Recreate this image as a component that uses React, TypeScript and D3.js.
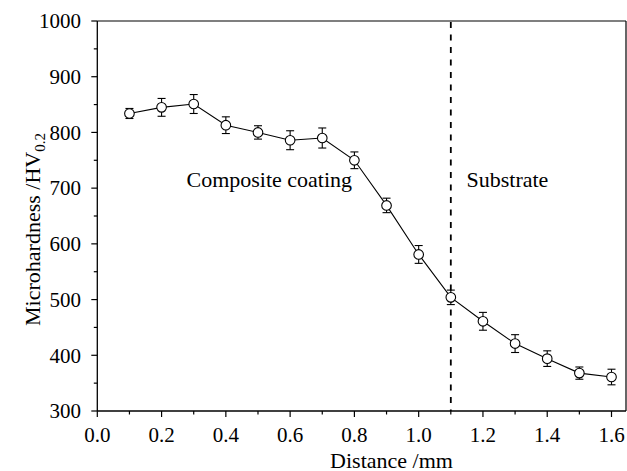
import React from "react";
import * as d3 from "d3";

const distances = [0.1, 0.2, 0.3, 0.4, 0.5, 0.6, 0.7, 0.8, 0.9, 1.0, 1.1, 1.2, 1.3, 1.4, 1.5, 1.6];
const hardness = [834, 845, 851, 813, 800, 786, 790, 750, 669, 581, 504, 461, 421, 394, 368, 361];
const errors = [9, 16, 17, 15, 12, 17, 18, 15, 13, 16, 13, 16, 16, 14, 11, 14];
const xTicks = [0.0, 0.2, 0.4, 0.6, 0.8, 1.0, 1.2, 1.4, 1.6];
const xMinor = [0.1, 0.3, 0.5, 0.7, 0.9, 1.1, 1.3, 1.5];
const yTicks = [300, 400, 500, 600, 700, 800, 900, 1000];
const yMinor = [350, 450, 550, 650, 750, 850, 950];
const boundary = 1.1;

const W = 627, H = 471;
const left = 97.3, right = 626, top = 21, bottom = 411;
const serif: React.CSSProperties = { fontFamily: "'Liberation Serif', 'DejaVu Serif', serif" };

export default function App() {
  const x = d3.scaleLinear().domain([0, 1.6]).range([left, 611.5]);
  const y = d3.scaleLinear().domain([300, 1000]).range([bottom, top]);
  const line = d3.line<number>().x((_, i) => x(distances[i])).y((d) => y(d));
  return (
    <svg width={W} height={H} style={{ position: "absolute", left: 0, top: 0, background: "#fff" }}>
      <rect x={0} y={0} width={W} height={H} fill="#fff" />
      {/* frame */}
      <line x1={left} x2={right} y1={top} y2={top} stroke="#000" strokeWidth={1.2} />
      <line x1={right} x2={right} y1={top} y2={bottom} stroke="#000" strokeWidth={1.2} />
      <line x1={left} x2={left} y1={top} y2={bottom} stroke="#000" strokeWidth={1.3} />
      <line x1={left} x2={right} y1={bottom} y2={bottom} stroke="#000" strokeWidth={1.3} />
      {/* x ticks */}
      {xTicks.map((t) => (
        <g key={"xt" + t}>
          <line x1={x(t)} x2={x(t)} y1={bottom} y2={bottom + 6} stroke="#000" strokeWidth={1.2} />
          <text x={x(t)} y={442} textAnchor="middle" fontSize={21} style={serif}>{t.toFixed(1)}</text>
        </g>
      ))}
      {xMinor.map((t) => (
        <line key={"xm" + t} x1={x(t)} x2={x(t)} y1={bottom} y2={bottom + 3.5} stroke="#000" strokeWidth={1.2} />
      ))}
      {/* y ticks */}
      {yTicks.map((t) => (
        <g key={"yt" + t}>
          <line x1={left - 6} x2={left} y1={y(t)} y2={y(t)} stroke="#000" strokeWidth={1.2} />
          <text x={81} y={y(t)} dy="0.35em" textAnchor="end" fontSize={21} style={serif}>{t}</text>
        </g>
      ))}
      {yMinor.map((t) => (
        <line key={"ym" + t} x1={left - 3.5} x2={left} y1={y(t)} y2={y(t)} stroke="#000" strokeWidth={1.2} />
      ))}
      {/* boundary */}
      <line x1={x(boundary)} x2={x(boundary)} y1={top + 1} y2={bottom} stroke="#000" strokeWidth={1.8} strokeDasharray="6,6.5" />
      {/* series line */}
      <path d={line(hardness) || ""} fill="none" stroke="#000" strokeWidth={1.1} />
      {/* error bars */}
      {hardness.map((v, i) => {
        const cx = x(distances[i]);
        const y1 = y(v + errors[i]);
        const y2 = y(v - errors[i]);
        return (
          <g key={"e" + i} stroke="#000" strokeWidth={1.1}>
            <line x1={cx} x2={cx} y1={y1} y2={y2} />
            <line x1={cx - 4} x2={cx + 4} y1={y1} y2={y1} />
            <line x1={cx - 4} x2={cx + 4} y1={y2} y2={y2} />
          </g>
        );
      })}
      {hardness.map((v, i) => (
        <circle key={"c" + i} cx={x(distances[i])} cy={y(v)} r={4.8} fill="#fff" stroke="#000" strokeWidth={1.1} />
      ))}
      {/* annotations */}
      <text x={186.5} y={187} fontSize={22} style={serif}>Composite coating</text>
      <text x={466.5} y={187} fontSize={22} style={serif}>Substrate</text>
      {/* axis titles */}
      <text x={391.5} y={467.5} textAnchor="middle" fontSize={22} style={serif}>Distance /mm</text>
      <text transform={`translate(40,${229.5}) rotate(-90)`} textAnchor="middle" fontSize={22} style={serif}>
        Microhardness /HV<tspan fontSize={15} dy={5}>0.2</tspan>
      </text>
    </svg>
  );
}
